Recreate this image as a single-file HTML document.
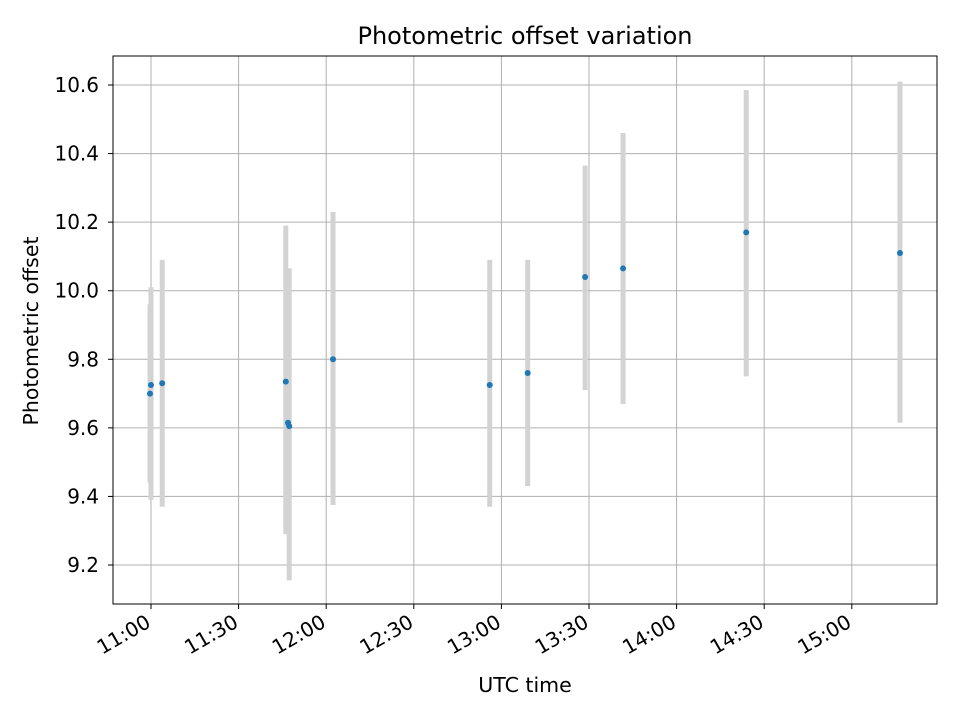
<!DOCTYPE html>
<html><head><meta charset="utf-8"><style>
body{margin:0;background:#fff}
svg{display:block;font-family:"DejaVu Sans","Liberation Sans",sans-serif}
</style></head><body>
<svg id="chart" width="960" height="720" viewBox="0 0 960 720">
<rect width="960" height="720" fill="#fff"/>
<g id="grid"></g>
<g id="bars"></g>
<g id="pts"></g>
<rect x="113" y="56" width="824" height="548" fill="none" stroke="#000" stroke-width="1"/>
<g id="axes"></g>
<text x="525" y="44" text-anchor="middle" font-size="24">Photometric offset variation</text>
<text x="525" y="692" text-anchor="middle" font-size="20.5">UTC time</text>
<text transform="translate(38,331) rotate(-90)" text-anchor="middle" font-size="20.5">Photometric offset</text>
</svg>
<script>
const times = ["11:00:00","10:59:40","11:03:50","11:46:10","11:46:55","11:47:20","12:02:20","12:56:00","13:09:00","13:28:40","13:41:40","14:23:50","15:16:30"];
const values = [9.725,9.70,9.73,9.735,9.615,9.605,9.80,9.725,9.76,10.04,10.065,10.17,10.11];
const errLow = [9.39,9.44,9.37,9.29,9.30,9.155,9.375,9.37,9.43,9.71,9.67,9.75,9.615];
const errHigh = [10.01,9.96,10.09,10.19,10.065,10.065,10.23,10.09,10.09,10.365,10.46,10.585,10.61];
const yTicks = [9.2,9.4,9.6,9.8,10.0,10.2,10.4,10.6];
const xTickLabels = ["11:00","11:30","12:00","12:30","13:00","13:30","14:00","14:30","15:00"];

const NS="http://www.w3.org/2000/svg";
function mins(t){const p=t.split(":").map(Number);return (p[0]-11)*60+p[1]+(p[2]||0)/60;}
function X(t){return 151+mins(t)*(87.6/30);}
function Y(v){return 565-(v-9.2)*(68.57/0.2);}
function mk(tag,attrs,parent){const e=document.createElementNS(NS,tag);for(const k in attrs)e.setAttribute(k,attrs[k]);parent.appendChild(e);return e;}
const grid=document.getElementById('grid'),axes=document.getElementById('axes'),bars=document.getElementById('bars'),pts=document.getElementById('pts');

yTicks.forEach(v=>{
  const y=Y(v);
  const g=mk('line',{x1:113,x2:937,y1:y,y2:y,stroke:'#b0b0b0','stroke-width':1},grid);
  
  
  mk('line',{x1:108,x2:113,y1:y,y2:y,stroke:'#000'},axes);
  const t=mk('text',{x:99,y:y+7,'text-anchor':'end','font-size':20},axes);
  t.textContent=v.toFixed(1);
  
  
});
xTickLabels.forEach(l=>{
  const x=X(l+":00");
  const g=mk('line',{x1:x,x2:x,y1:56,y2:604,stroke:'#b0b0b0','stroke-width':1},grid);
  
  
  mk('line',{x1:x,x2:x,y1:604,y2:609,stroke:'#000'},axes);
  const t=mk('text',{transform:`translate(${x+1},${626}) rotate(-30)`,'text-anchor':'end','font-size':20},axes);
  t.textContent=l;
  
  
});
times.forEach((t,i)=>{
  const x=X(t);
  const b=mk('line',{x1:x,x2:x,y1:Y(errLow[i]),y2:Y(errHigh[i]),stroke:'#d3d3d3','stroke-width':5},bars);
  
  
  const c=mk('circle',{cx:x,cy:Y(values[i]),r:3,fill:'#1f77b4'},pts);
  
  
});
</script>
</body></html>
